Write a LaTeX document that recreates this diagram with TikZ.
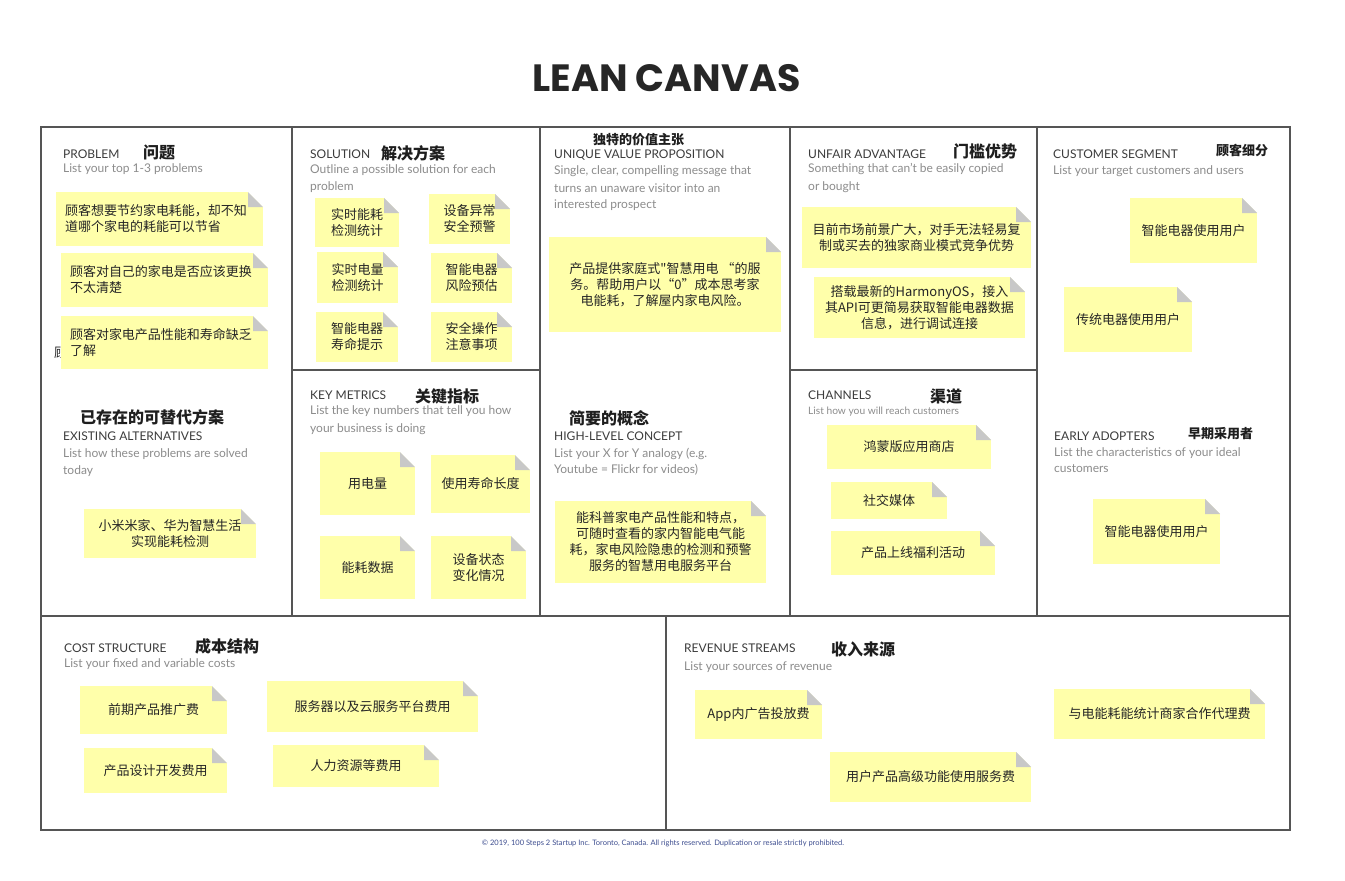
\documentclass[tikz,border=0pt]{standalone}
\usepackage{fontspec}
\setmainfont{Lato}
\newfontfamily\cjk{Noto Sans CJK SC}
\newfontfamily\titlefont{Poppins}
\definecolor{notey}{HTML}{FFFFAA}
\definecolor{foldg}{HTML}{C8C8C8}
\definecolor{gridc}{HTML}{555555}
\definecolor{hdrc}{HTML}{3C3C3C}
\definecolor{subc}{HTML}{8C8C8C}
\definecolor{notec}{HTML}{262626}
\definecolor{cnhc}{HTML}{1E1E1E}
\definecolor{footc}{HTML}{3E4E90}
\newlength\foldsz \setlength\foldsz{15pt}
\begin{document}
\begin{tikzpicture}[x=1pt,y=-1pt,
  gridline/.style={draw=gridc, line width=1.3pt},
  hdr/.style={font=\fontsize{12}{14}\selectfont, text=hdrc, anchor=west, inner sep=0pt},
  sub/.style={font=\fontsize{12}{14}\selectfont, text=subc, anchor=west, inner sep=0pt},
  cnh/.style={font=\cjk\bfseries\fontsize{16}{18}\selectfont, text=cnhc, anchor=west, inner sep=0pt},
  cns/.style={font=\cjk\bfseries\fontsize{13}{15}\selectfont, text=cnhc, anchor=west, inner sep=0pt},
  nsz/.style 2 args={minimum width=#1pt, minimum height=#2pt},
  note/.style={fill=notey, inner sep=0pt, text=notec, align=center,
    font=\cjk\fontsize{13}{16}\selectfont,
    path picture={
      \fill[white] (path picture bounding box.north east)
        -- ([xshift=-\foldsz]path picture bounding box.north east)
        -- ([yshift=-\foldsz]path picture bounding box.north east) -- cycle;
      \fill[foldg] ([xshift=-\foldsz]path picture bounding box.north east)
        -- ([yshift=-\foldsz]path picture bounding box.north east)
        -- ([xshift=-\foldsz,yshift=-\foldsz]path picture bounding box.north east) -- cycle;}},
  lnote/.style={note, align=left, inner xsep=9pt}
]
\useasboundingbox (0,0) rectangle (1345,881);
\fill[white] (0,0) rectangle (1345,881);

% title
\node[font=\titlefont\bfseries\fontsize{38}{40}\selectfont, text=black!85, inner sep=0pt] (title) at (666.5,78) {LEAN CANVAS};

% grid
\draw[gridline] (41,127) rectangle (1290,830);
\draw[gridline] (292,127) -- (292,616);
\draw[gridline] (540,127) -- (540,616);
\draw[gridline] (790,127) -- (790,616);
\draw[gridline] (1037,127) -- (1037,616);
\draw[gridline] (292,370) -- (540,370);
\draw[gridline] (790,370) -- (1037,370);
\draw[gridline] (41,616) -- (1290,616);
\draw[gridline] (666,616) -- (666,830);

% PROBLEM
\node[hdr] (probh) at (63,154) {PROBLEM};
\node[cnh] (probc) at (143,152) {问题};
\node[sub] (probs) at (63,169) {List your top 1-3 problems};
\node[lnote, nsz={207}{54}, text width=189pt] (p1) at (159.5,219) {顾客想要节约家电耗能，却不知\\道哪个家电的耗能可以节省};
\node[lnote, nsz={207}{54}, text width=189pt] (p2) at (164.5,280) {顾客对自己的家电是否应该更换\\不太清楚};
\node[font=\cjk\fontsize{13}{15}\selectfont, text=notec, anchor=west, inner sep=0pt] (pstray) at (54,353) {顾};
\node[lnote, nsz={207}{53}, text width=189pt] (p3) at (164.5,342.5) {顾客对家电产品性能和寿命缺乏\\了解};

% EXISTING ALTERNATIVES
\node[cnh] (exc) at (80,417) {已存在的可替代方案};
\node[hdr] (exh) at (63,436) {EXISTING ALTERNATIVES};
\node[sub] (exs1) at (63,454) {List how these problems are solved};
\node[sub] (exs2) at (63,471) {today};
\node[note, nsz={172}{49}] (e1) at (170,533.5) {小米米家、华为智慧生活\\实现能耗检测};

% SOLUTION
\node[hdr] (solh) at (310,154) {SOLUTION};
\node[cnh] (solc) at (381,153) {解决方案};
\node[sub] (sols1) at (310,170) {Outline a possible solution for each};
\node[sub] (sols2) at (310,187) {problem};
\node[note, nsz={84}{49}] (s1) at (357,222.5) {实时能耗\\检测统计};
\node[note, nsz={81}{50}] (s2) at (469.5,219) {设备异常\\安全预警};
\node[note, nsz={81}{51}] (s3) at (357.5,277.5) {实时电量\\检测统计};
\node[note, nsz={81}{50}] (s4) at (471.5,278) {智能电器\\风险预估};
\node[note, nsz={82}{50}] (s5) at (357,337) {智能电器\\寿命提示};
\node[note, nsz={81}{50}] (s6) at (471.5,337) {安全操作\\注意事项};

% KEY METRICS
\node[hdr] (kmh) at (310,395) {KEY METRICS};
\node[cnh] (kmc) at (415,396) {关键指标};
\node[sub] (kms1) at (310,411) {List the key numbers that tell you how};
\node[sub] (kms2) at (310,429) {your business is doing};
\node[note, nsz={95}{63}] (k1) at (367.5,483.5) {用电量};
\node[note, nsz={99}{58}] (k2) at (480.5,484) {使用寿命长度};
\node[note, nsz={95}{63}] (k3) at (367.5,567.5) {能耗数据};
\node[note, nsz={95}{63}] (k4) at (478.5,567.5) {设备状态\\变化情况};

% UVP
\node[cns] (uvc) at (593,140) {独特的价值主张};
\node[hdr] (uvh) at (554,155) {UNIQUE VALUE PROPOSITION};
\node[sub] (uvs1) at (554,171) {Single, clear, compelling message that};
\node[sub] (uvs2) at (554,188) {turns an unaware visitor into an};
\node[sub] (uvs3) at (554,205) {interested prospect};
\node[note, nsz={232}{95}] (u1) at (665,284.5) {产品提供家庭式"智慧用电 “的服\\务。帮助用户以“0”成本思考家\\电能耗，了解屋内家电风险。};

% HIGH-LEVEL CONCEPT
\node[cnh] (hlc) at (569,418) {简要的概念};
\node[hdr] (hlh) at (554,436) {HIGH-LEVEL CONCEPT};
\node[sub] (hls1) at (554,454) {List your X for Y analogy (e.g.};
\node[sub] (hls2) at (554,470) {Youtube = Flickr for videos)};
\node[note, nsz={211}{82}] (h1) at (660.5,542) {能科普家电产品性能和特点，\\ 可随时查看的家内智能电气能\\耗，家电风险隐患的检测和预警\\服务的智慧用电服务平台};

% UNFAIR ADVANTAGE
\node[hdr] (uah) at (808,154) {UNFAIR ADVANTAGE};
\node[cnh] (uac) at (953,151) {门槛优势};
\node[sub] (uas1) at (808,169) {Something that can't be easily copied};
\node[sub] (uas2) at (808,187) {or bought};
\node[note, nsz={229}{61}] (a1) at (916.5,237.5) {目前市场前景广大，对手无法轻易复\\制或买去的独家商业模式竞争优势};
\node[note, nsz={211}{61}] (a2) at (919.5,307.5) {搭载最新的HarmonyOS，接入\\其API可更简易获取智能电器数据\\信息，进行调试连接};

% CHANNELS
\node[hdr] (chh) at (808,395) {CHANNELS};
\node[cnh] (chc) at (930,396) {渠道};
\node[sub, font=\fontsize{10.2}{12}\selectfont] (chs) at (808,412) {List how you will reach customers};
\node[note, nsz={164}{44}] (c1) at (909,447) {鸿蒙版应用商店};
\node[note, nsz={116}{37}] (c2) at (889,500.5) {社交媒体};
\node[note, nsz={164}{44}] (c3) at (913,553) {产品上线福利活动};

% CUSTOMER SEGMENT
\node[hdr] (csh) at (1053,154) {CUSTOMER SEGMENT};
\node[cns] (csc) at (1216,151) {顾客细分};
\node[sub] (css) at (1053,171) {List your target customers and users};
\node[note, nsz={127}{65}] (cs1) at (1193.5,230.5) {智能电器使用用户};
\node[note, nsz={128}{65}] (cs2) at (1128,319.5) {传统电器使用用户};

% EARLY ADOPTERS
\node[hdr] (eah) at (1054,436) {EARLY ADOPTERS};
\node[cns] (eac) at (1188,434) {早期采用者};
\node[sub] (eas1) at (1054,453) {List the characteristics of your ideal};
\node[sub] (eas2) at (1054,469) {customers};
\node[note, nsz={127}{65}] (ea1) at (1156.5,531.5) {智能电器使用用户};

% COST STRUCTURE
\node[hdr] (coh) at (64,648) {COST STRUCTURE};
\node[cnh] (coc) at (195,646) {成本结构};
\node[sub] (cos) at (64,664) {List your fixed and variable costs};
\node[note, nsz={147}{48}] (co1) at (153.5,710) {前期产品推广费};
\node[note, nsz={211}{51}] (co2) at (372.5,706.5) {服务器以及云服务平台费用};
\node[note, nsz={143}{45}] (co3) at (155.5,770.5) {产品设计开发费用};
\node[note, nsz={166}{42}] (co4) at (356,766) {人力资源等费用};

% REVENUE STREAMS
\node[hdr] (rvh) at (684,648) {REVENUE STREAMS};
\node[cnh] (rvc) at (831,649) {收入来源};
\node[sub] (rvs) at (684,667) {List your sources of revenue};
\node[note, nsz={127}{49}] (r1) at (758.5,714.5) {App内广告投放费};
\node[note, nsz={201}{50}] (r2) at (930.5,777) {用户产品高级功能使用服务费};
\node[note, nsz={211}{50}] (r3) at (1159.5,714) {与电能耗能统计商家合作代理费};

% footer
\node[font=\fontsize{7.5}{9}\selectfont, text=footc, inner sep=0pt] (foot) at (663,843) {© 2019, 100 Steps 2 Startup Inc. Toronto, Canada. All rights reserved. Duplication or resale strictly prohibited.};
\end{tikzpicture}
\end{document}
